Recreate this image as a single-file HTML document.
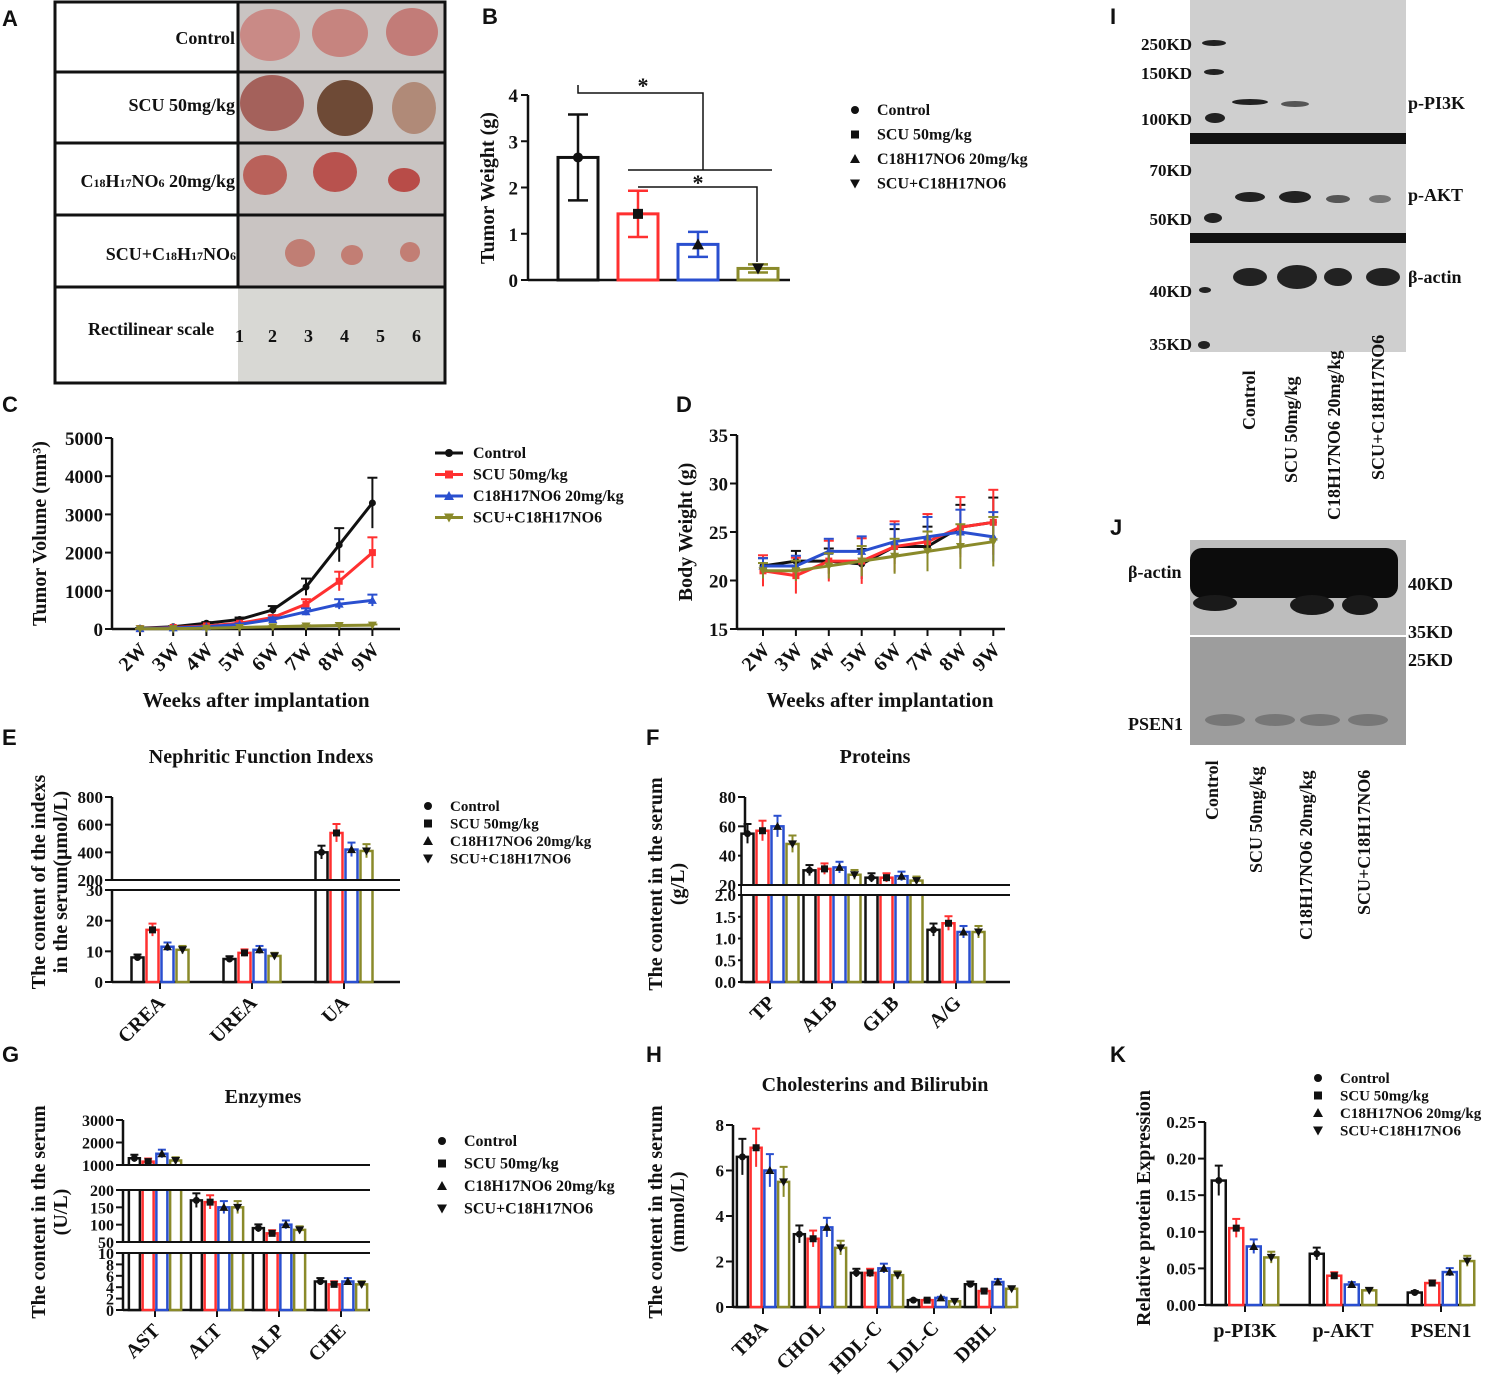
<!DOCTYPE html>
<html><head><meta charset="utf-8"><style>
html,body{margin:0;padding:0;background:#fff}
svg{display:block}
text{font-family:"Liberation Serif",serif;font-weight:bold;fill:#111}
.pl{font-family:"Liberation Sans",sans-serif;font-size:22px}
</style></head><body>
<svg id="fig" width="1504" height="1385" viewBox="0 0 1504 1385" xmlns="http://www.w3.org/2000/svg">
<g id="static">
<text class="pl" x="2" y="26">A</text>
<text class="pl" x="482" y="24">B</text>
<text class="pl" x="2" y="412">C</text>
<text class="pl" x="676" y="412">D</text>
<text class="pl" x="2" y="745">E</text>
<text class="pl" x="646" y="745">F</text>
<text class="pl" x="2" y="1062">G</text>
<text class="pl" x="646" y="1062">H</text>
<text class="pl" x="1110" y="24">I</text>
<text class="pl" x="1110" y="535">J</text>
<text class="pl" x="1110" y="1062">K</text>

<g>
<rect x="238" y="2" width="207" height="381" fill="#c9c4c2"/>
<rect x="238" y="287" width="207" height="96" fill="#d8d8d4"/>
<ellipse cx="270" cy="35" rx="30" ry="26" fill="#c98a86"/><ellipse cx="340" cy="33" rx="28" ry="24" fill="#c6847f"/><ellipse cx="412" cy="32" rx="26" ry="24" fill="#c27c78"/>
<ellipse cx="272" cy="103" rx="32" ry="28" fill="#a4615b"/><ellipse cx="345" cy="108" rx="28" ry="28" fill="#6e4a36"/><ellipse cx="414" cy="108" rx="22" ry="26" fill="#b08a78"/>
<ellipse cx="265" cy="175" rx="22" ry="20" fill="#b9615a"/><ellipse cx="335" cy="172" rx="22" ry="20" fill="#b8524e"/><ellipse cx="404" cy="180" rx="16" ry="12" fill="#b84c48"/>
<ellipse cx="300" cy="253" rx="15" ry="14" fill="#c07e74"/><ellipse cx="352" cy="255" rx="11" ry="10" fill="#c27e74"/><ellipse cx="410" cy="252" rx="10" ry="10" fill="#c27e74"/>
<g stroke="#111" stroke-width="3" fill="none"><rect x="55" y="2" width="390" height="381"/>
<line x1="55" y1="72" x2="445" y2="72"/><line x1="55" y1="143" x2="445" y2="143"/><line x1="55" y1="215" x2="445" y2="215"/><line x1="55" y1="287" x2="445" y2="287"/><line x1="238" y1="2" x2="238" y2="287"/></g>
<text x="235" y="44" font-size="18" text-anchor="end">Control</text>
<text x="235" y="111" font-size="18" text-anchor="end">SCU 50mg/kg</text>
<text x="235" y="187" font-size="18" text-anchor="end">C<tspan font-size="12">18</tspan>H<tspan font-size="12">17</tspan>NO<tspan font-size="12">6</tspan> 20mg/kg</text>
<text x="236" y="260" font-size="18" text-anchor="end">SCU+C<tspan font-size="12">18</tspan>H<tspan font-size="12">17</tspan>NO<tspan font-size="12">6</tspan></text>
<text x="88" y="335" font-size="18">Rectilinear scale</text>
<g font-size="18" font-weight="normal"><text x="235" y="342">1</text><text x="268" y="342">2</text><text x="304" y="342">3</text><text x="340" y="342">4</text><text x="376" y="342">5</text><text x="412" y="342">6</text></g>
</g>

<g>
<rect x="1190" y="0" width="216" height="352" fill="#cfcfcf"/>
<rect x="1190" y="133" width="216" height="11" fill="#111"/><rect x="1190" y="233" width="216" height="10" fill="#111"/>
<g fill="#222"><ellipse cx="1214" cy="43" rx="12" ry="3"/><ellipse cx="1214" cy="72" rx="10" ry="3"/><ellipse cx="1215" cy="118" rx="10" ry="5"/><ellipse cx="1213" cy="218" rx="9" ry="5"/><ellipse cx="1205" cy="290" rx="6" ry="3"/><ellipse cx="1204" cy="345" rx="6" ry="4"/>
<ellipse cx="1250" cy="102" rx="18" ry="3"/><ellipse cx="1295" cy="104" rx="14" ry="3" fill="#555"/>
<ellipse cx="1250" cy="197" rx="15" ry="5"/><ellipse cx="1295" cy="197" rx="16" ry="6"/><ellipse cx="1338" cy="199" rx="12" ry="4" fill="#555"/><ellipse cx="1380" cy="199" rx="11" ry="4" fill="#777"/>
<ellipse cx="1250" cy="277" rx="17" ry="9"/><ellipse cx="1297" cy="277" rx="20" ry="12"/><ellipse cx="1338" cy="277" rx="14" ry="9"/><ellipse cx="1383" cy="277" rx="17" ry="9"/></g>
<g font-size="17" text-anchor="end"><text x="1192" y="50">250KD</text><text x="1192" y="79">150KD</text><text x="1192" y="125">100KD</text><text x="1192" y="176">70KD</text><text x="1192" y="225">50KD</text><text x="1192" y="297">40KD</text><text x="1192" y="350">35KD</text></g>
<g font-size="18"><text x="1408" y="109">p-PI3K</text><text x="1408" y="201">p-AKT</text><text x="1408" y="283">β-actin</text></g>
<g font-size="18"><text transform="translate(1255,430) rotate(-90)">Control</text><text transform="translate(1297,483) rotate(-90)">SCU 50mg/kg</text><text transform="translate(1340,520) rotate(-90)">C18H17NO6 20mg/kg</text><text transform="translate(1384,480) rotate(-90)">SCU+C18H17NO6</text></g>
</g>

<g>
<rect x="1190" y="540" width="216" height="95" fill="#bdbdbd"/>
<rect x="1190" y="637" width="216" height="108" fill="#9d9d9d"/>
<rect x="1190" y="548" width="208" height="50" rx="12" fill="#0c0c0c"/>
<g fill="#1a1a1a"><ellipse cx="1215" cy="603" rx="22" ry="8"/><ellipse cx="1312" cy="605" rx="22" ry="10"/><ellipse cx="1360" cy="605" rx="18" ry="10"/></g>
<g fill="#777"><ellipse cx="1225" cy="720" rx="20" ry="6"/><ellipse cx="1275" cy="720" rx="20" ry="6"/><ellipse cx="1320" cy="720" rx="20" ry="6"/><ellipse cx="1368" cy="720" rx="20" ry="6"/></g>
<g font-size="18"><text x="1128" y="578">β-actin</text><text x="1408" y="590">40KD</text><text x="1408" y="638">35KD</text><text x="1408" y="666">25KD</text><text x="1128" y="730">PSEN1</text></g>
<g font-size="18"><text transform="translate(1218,820) rotate(-90)">Control</text><text transform="translate(1262,873) rotate(-90)">SCU 50mg/kg</text><text transform="translate(1312,940) rotate(-90)">C18H17NO6 20mg/kg</text><text transform="translate(1370,915) rotate(-90)">SCU+C18H17NO6</text></g>
</g>
</g>
<g id="charts"></g>
</svg>
<script>
const groups = ["Control","SCU 50mg/kg","C18H17NO6 20mg/kg","SCU+C18H17NO6"];
const bWeight = [2.65,1.43,0.77,0.25];
const weeks = ["2W","3W","4W","5W","6W","7W","8W","9W"];
const cControl = [20,60,150,250,500,1100,2200,3300];
const cSCU = [10,40,80,150,300,650,1250,2000];
const cC18 = [10,30,60,120,250,450,650,750];
const cCombo = [5,10,20,40,60,80,90,100];
const dControl = [21.5,22,22,21.7,23.5,23.5,25.5,26];
const dSCU = [21,20.5,22,22,23.5,24,25.5,26];
const dC18 = [21.5,21.5,23,23,24,24.5,25,24.5];
const dCombo = [21,21,21.5,22,22.5,23,23.5,24];
const eCats = ["CREA","UREA","UA"];
const eVals = [[8,7.5,400],[17,9.5,540],[11.5,10.5,420],[10.5,8.5,410]];
const fCats = ["TP","ALB","GLB","A/G"];
const fVals = [[55,30,25,1.2],[57,31,25,1.35],[60,32,26,1.15],[48,27,23,1.15]];
const gCats = ["AST","ALT","ALP","CHE"];
const gVals = [[1300,170,90,5],[1150,165,75,4.5],[1500,150,100,5],[1200,150,85,4.5]];
const hCats = ["TBA","CHOL","HDL-C","LDL-C","DBIL"];
const hVals = [[6.6,3.2,1.5,0.3,1],[7,3,1.5,0.3,0.7],[6,3.5,1.7,0.4,1.1],[5.5,2.6,1.4,0.25,0.8]];
const kCats = ["p-PI3K","p-AKT","PSEN1"];
const kVals = [[0.17,0.07,0.017],[0.105,0.04,0.03],[0.08,0.028,0.045],[0.065,0.02,0.06]];
const colors = ["#111111","#ff3030","#2a4fcf","#8a8a2a"];
const markers = ["circle","square","up","down"];

const NS="http://www.w3.org/2000/svg";
const root=document.getElementById('charts');
function el(tag,attrs,parent,txt){const e=document.createElementNS(NS,tag);for(const k in attrs)e.setAttribute(k,attrs[k]);if(txt!==undefined)e.textContent=txt;(parent||root).appendChild(e);return e;}
function marker(g,type,x,y,s,c){
 if(type==="circle")return el('circle',{cx:x,cy:y,r:s,fill:c},g);
 if(type==="square")return el('rect',{x:x-s,y:y-s,width:2*s,height:2*s,fill:c},g);
 if(type==="up")return el('polygon',{points:`${x},${y-s-1} ${x-s-1},${y+s} ${x+s+1},${y+s}`,fill:c},g);
 return el('polygon',{points:`${x},${y+s+1} ${x-s-1},${y-s} ${x+s+1},${y-s}`,fill:c},g);
}
function legend(x,y,dy,fs,ms,lineStyle,name){
 const g=el('g',{});  
 groups.forEach((n,i)=>{
  const e=el('g',{},g);
  
  
  if(lineStyle){el('line',{x1:x-10,y1:y+i*dy-5,x2:x+18,y2:y+i*dy-5,stroke:colors[i],'stroke-width':3},e);marker(e,markers[i],x+4,y+i*dy-5,4,colors[i]);}
  else marker(e,markers[i],x,y+i*dy-5,ms,"#111");
  el('text',{x:x+(lineStyle?28:22),y:y+i*dy,'font-size':fs},e,n);
 });
}
function yOf(v,segs){for(const s of segs){if(v<=s.max)return s.ybot-(Math.max(v,s.min)-s.min)/(s.max-s.min)*(s.ybot-s.ytop);}const t=segs[segs.length-1];return t.ytop;}
function yAxis(g,ax,segs,fs){
 segs.forEach(s=>{
  el('line',{x1:ax,y1:s.ytop,x2:ax,y2:s.ybot,stroke:'#111','stroke-width':2.5},g);
  s.ticks.forEach(t=>{const y=s.ybot-(t-s.min)/(s.max-s.min)*(s.ybot-s.ytop);
   el('line',{x1:ax-7,y1:y,x2:ax,y2:y,stroke:'#111','stroke-width':2},g);
   el('text',{x:ax-9,y:y+6,'font-size':fs,'text-anchor':'end'},g,s.fmt?s.fmt(t):t);});
 });
}
function barChart(opt){
 const g=el('g',{});  
 yAxis(g,opt.ax,opt.segs,opt.fs||17);
 const base=opt.segs[0].ybot;
 el('line',{x1:opt.ax,y1:base,x2:opt.xend,y2:base,stroke:'#111','stroke-width':2.5},g);
 opt.cats.forEach((c,ci)=>{
  const cx=opt.ax+opt.first+ci*opt.step;
  el('line',{x1:cx,y1:base,x2:cx,y2:base+7,stroke:'#111','stroke-width':2},g);
  if(opt.flat) el('text',{x:cx,y:base+32,'font-size':opt.cfs||20,'text-anchor':'middle'},g,c);
  else el('text',{x:cx+6,y:base+22,'font-size':opt.cfs||20,'text-anchor':'end',transform:`rotate(-45 ${cx+6} ${base+22})`},g,c);
  for(let gi=0;gi<4;gi++){
   const v=opt.vals[gi][ci]; const x=cx+(gi-1.5)*opt.bw*1.25; const y=yOf(v,opt.segs);
   const b=el('rect',{x:x-opt.bw/2,y:y,width:opt.bw,height:base-y,fill:'#fff',stroke:colors[gi],'stroke-width':2.5},g);
   
   
   const ye1=yOf(v*1.12,opt.segs),ye2=yOf(v*0.88,opt.segs);
   el('line',{x1:x,y1:ye1,x2:x,y2:ye2,stroke:colors[gi],'stroke-width':2},g);
   el('line',{x1:x-4,y1:ye1,x2:x+4,y2:ye1,stroke:colors[gi],'stroke-width':2},g);
   marker(g,markers[gi],x,y,3.5,'#111');
  }
 });
 for(let i=0;i<opt.segs.length-1;i++){const a=opt.segs[i].ytop,b=opt.segs[i+1].ybot;
   el('rect',{x:opt.ax-3,y:b+1,width:opt.xend-opt.ax+3,height:a-b-2,fill:'#fff'},g);
   el('line',{x1:opt.ax-3,y1:a,x2:opt.xend,y2:a,stroke:'#111','stroke-width':2},g);
   el('line',{x1:opt.ax-3,y1:b,x2:opt.xend,y2:b,stroke:'#111','stroke-width':2},g);}
 if(opt.title) el('text',{x:opt.tx,y:opt.ty,'font-size':20,'text-anchor':'middle'},g,opt.title);
 opt.ylab.forEach((l,i)=>el('text',{x:0,y:0,'font-size':20,'text-anchor':'middle',transform:`translate(${opt.ylx+i*22},${opt.yly}) rotate(-90)`},g,l));
 return g;
}

(function(){
 const g=el('g',{});  
 const ax=528,y0=280,y4=95; const y=v=>y0-(v/4)*(y0-y4);
 el('line',{x1:ax,y1:y4,x2:ax,y2:y0,stroke:'#111','stroke-width':2.5},g);
 el('line',{x1:ax,y1:y0,x2:790,y2:y0,stroke:'#111','stroke-width':2.5},g);
 [0,1,2,3,4].forEach(t=>{el('line',{x1:ax-7,y1:y(t),x2:ax,y2:y(t),stroke:'#111','stroke-width':2},g);el('text',{x:ax-10,y:y(t)+7,'font-size':19,'text-anchor':'end'},g,t);});
 bWeight.forEach((v,i)=>{const cx=578+i*60;
  const b=el('rect',{x:cx-20,y:y(v),width:40,height:y0-y(v),fill:'#fff',stroke:colors[i],'stroke-width':3},g);
   
  const e=v*0.35;el('line',{x1:cx,y1:y(v+e),x2:cx,y2:y(v-e),stroke:colors[i],'stroke-width':2.5},g);
  el('line',{x1:cx-10,y1:y(v+e),x2:cx+10,y2:y(v+e),stroke:colors[i],'stroke-width':2.5},g);
  el('line',{x1:cx-10,y1:y(v-e),x2:cx+10,y2:y(v-e),stroke:colors[i],'stroke-width':2.5},g);
  marker(g,markers[i],cx,y(v),5,'#111');});
 el('polyline',{points:'578,85 578,93 703,93 703,170',fill:'none',stroke:'#111','stroke-width':1.5},g);
 el('line',{x1:628,y1:170,x2:772,y2:170,stroke:'#111','stroke-width':1.5},g);
 el('polyline',{points:'638,187 757,187 757,262',fill:'none',stroke:'#111','stroke-width':1.5},g);
 el('text',{x:643,y:93,'font-size':22,'text-anchor':'middle'},g,'*');
 el('text',{x:698,y:190,'font-size':22,'text-anchor':'middle'},g,'*');
 el('text',{x:0,y:0,'font-size':20,'text-anchor':'middle',transform:'translate(494,188) rotate(-90)'},g,'Tumor Weight (g)');
})();
legend(855,115,24.5,16,4,false,'legend-b');

function lineChart(o){
 const g=el('g',{});  
 const y=v=>o.ybot-(v-o.min)/(o.max-o.min)*(o.ybot-o.ytop);
 const x=i=>o.x0+i*o.step;
 el('line',{x1:o.ax,y1:o.ytop,x2:o.ax,y2:o.ybot,stroke:'#111','stroke-width':2.5},g);
 el('line',{x1:o.ax,y1:o.ybot,x2:o.xend,y2:o.ybot,stroke:'#111','stroke-width':2.5},g);
 o.ticks.forEach(t=>{el('line',{x1:o.ax-7,y1:y(t),x2:o.ax,y2:y(t),stroke:'#111','stroke-width':2},g);el('text',{x:o.ax-9,y:y(t)+7,'font-size':19,'text-anchor':'end'},g,t);});
 weeks.forEach((w,i)=>{el('line',{x1:x(i),y1:o.ybot,x2:x(i),y2:o.ybot+7,stroke:'#111','stroke-width':2},g);
  el('text',{x:x(i)+8,y:o.ybot+22,'font-size':20,'text-anchor':'end',transform:`rotate(-45 ${x(i)+8} ${o.ybot+22})`},g,w);});
 o.series.forEach((s,si)=>{
  const p=el('polyline',{points:s.map((v,i)=>x(i)+','+y(v)).join(' '),fill:'none',stroke:colors[si],'stroke-width':3},g);
   
  s.forEach((v,i)=>{const e=o.err(v,i,si);el('line',{x1:x(i),y1:y(v+e),x2:x(i),y2:y(Math.max(o.min,v-e)),stroke:colors[si],'stroke-width':2},g);
   el('line',{x1:x(i)-5,y1:y(v+e),x2:x(i)+5,y2:y(v+e),stroke:colors[si],'stroke-width':2},g);
   marker(g,markers[si],x(i),y(v),3.5,colors[si]);});
 });
 el('text',{x:0,y:0,'font-size':20,'text-anchor':'middle',transform:`translate(${o.ylx},${(o.ytop+o.ybot)/2}) rotate(-90)`},g,o.ylab);
 el('text',{x:o.xlx,y:707,'font-size':21,'text-anchor':'middle'},g,'Weeks after implantation');
}
lineChart({name:'tumor-volume-chart',ax:112,ytop:438,ybot:629,min:0,max:5000,ticks:[0,1000,2000,3000,4000,5000],x0:140,step:33.2,xend:400,
 series:[cControl,cSCU,cC18,cCombo],err:(v,i)=>v*0.2,ylab:'Tumor Volume (mm³)',ylx:46,xlx:256});
legend(445,458,21.5,16,4,true,'legend-c');
lineChart({name:'body-weight-chart',ax:737,ytop:435,ybot:629,min:15,max:35,ticks:[15,20,25,30,35],x0:763,step:32.9,xend:1005,
 series:[dControl,dSCU,dC18,dCombo],err:(v,i,si)=>0.8+i*0.25+(si===1?0.8:0),ylab:'Body Weight (g)',ylx:692,xlx:880});

barChart({name:'nephritic-chart',ax:112,xend:400,first:48,step:92,bw:12,vals:eVals,cats:eCats,
 segs:[{min:0,max:30,ytop:890,ybot:982,ticks:[0,10,20,30]},{min:200,max:800,ytop:797,ybot:880,ticks:[200,400,600,800]}],
 title:'Nephritic Function Indexs',tx:261,ty:763,ylab:['The content of the indexs','in the serum(μmol/L)'],ylx:45,yly:882});
legend(428,811,17.5,15,4,false,'legend-e');
barChart({name:'proteins-chart',ax:745,xend:1010,first:25,step:62,bw:12,vals:fVals,cats:fCats,
 segs:[{min:0,max:2,ytop:895,ybot:982,ticks:[0,0.5,1,1.5,2],fmt:t=>t.toFixed(1)},{min:20,max:80,ytop:797,ybot:885,ticks:[20,40,60,80]}],
 title:'Proteins',tx:875,ty:763,ylab:['The content in the serum','(g/L)'],ylx:662,yly:884});
barChart({name:'enzymes-chart',ax:123,xend:370,first:32,step:62,bw:11,vals:gVals,cats:gCats,
 segs:[{min:0,max:10,ytop:1253,ybot:1310,ticks:[0,2,4,6,8,10]},{min:50,max:200,ytop:1190,ybot:1242,ticks:[50,100,150,200]},{min:1000,max:3000,ytop:1120,ybot:1165,ticks:[1000,2000,3000]}],
 cfs:20,fs:16,title:'Enzymes',tx:263,ty:1103,ylab:['The content in the serum','(U/L)'],ylx:45,yly:1212});
legend(442,1146,22.5,16,4,false,'legend-g');
barChart({name:'cholesterin-chart',ax:733,xend:1012,first:30,step:57,bw:11,vals:hVals,cats:hCats,
 segs:[{min:0,max:8,ytop:1125,ybot:1307,ticks:[0,2,4,6,8]}],
 title:'Cholesterins and Bilirubin',tx:875,ty:1091,ylab:['The content in the serum','(mmol/L)'],ylx:662,yly:1212});
barChart({name:'relative-expression-chart',ax:1205,xend:1470,first:40,step:98,bw:14,vals:kVals,cats:kCats,flat:true,
 segs:[{min:0,max:0.25,ytop:1122,ybot:1305,ticks:[0,0.05,0.1,0.15,0.2,0.25],fmt:t=>t.toFixed(2)}],
 cfs:20,ylab:['Relative protein Expression'],ylx:1150,yly:1208});
legend(1318,1083,17.5,15,4,false,'legend-k');
</script>
</body></html>
